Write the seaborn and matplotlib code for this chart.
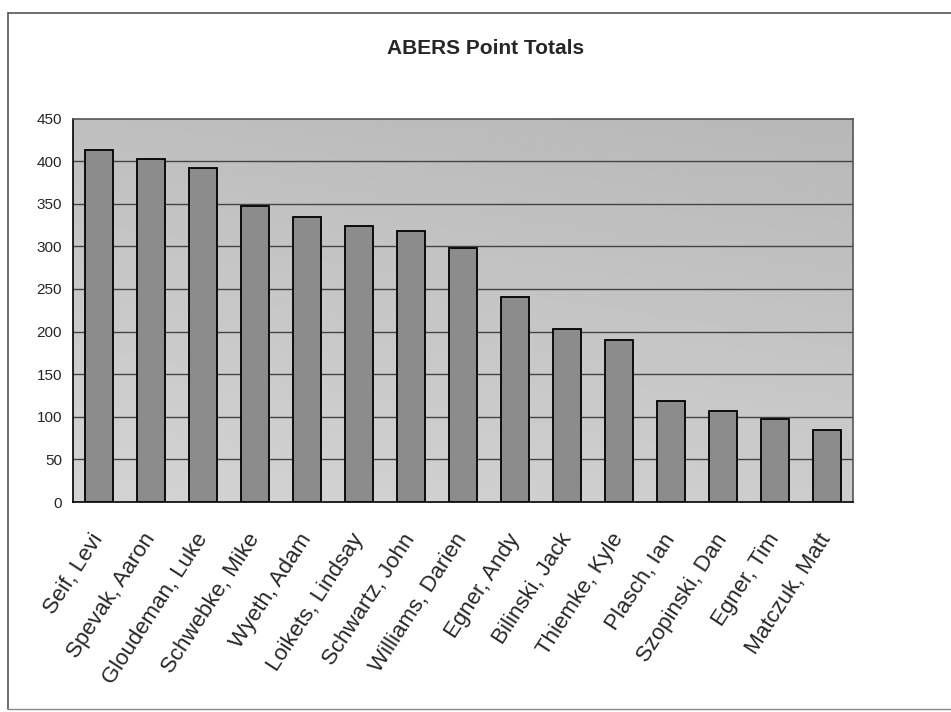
import numpy as np
import pandas as pd
import matplotlib
matplotlib.use("Agg")
import matplotlib.pyplot as plt
import seaborn as sns
from matplotlib.lines import Line2D

names = ["Seif, Levi", "Spevak, Aaron", "Gloudeman, Luke", "Schwebke, Mike",
         "Wyeth, Adam", "Loikets, Lindsay", "Schwartz, John", "Williams, Darien",
         "Egner, Andy", "Bilinski, Jack", "Thiemke, Kyle", "Plasch, Ian",
         "Szopinski, Dan", "Egner, Tim", "Matczuk, Matt"]
points = [413, 402, 392, 347, 334, 324, 318, 298, 240, 203, 190, 118, 107, 97, 84]
yticks = [0, 50, 100, 150, 200, 250, 300, 350, 400, 450]
title = "ABERS Point Totals"

df = pd.DataFrame({"name": names, "points": points})

sns.set_style("white")
plt.rcParams["font.family"] = ["Liberation Sans", "DejaVu Sans"]

fig = plt.figure(figsize=(9.51, 7.12), dpi=100)
fig.patch.set_facecolor("white")
ax = fig.add_axes([73/951, 1-502/712, (853-73)/951, (502-118.5)/712])

# gradient background (darker upper-right, lighter lower-left)
gx, gy = np.meshgrid(np.linspace(0, 1, 200), np.linspace(0, 1, 200))
t = 0.75 * gy + 0.25 * gx
grad = 0.83 - 0.11 * t
ax.imshow(grad, extent=[-0.5, len(names) - 0.5, 0, 450], origin="lower",
          aspect="auto", cmap="gray", vmin=0, vmax=1, zorder=0, interpolation="bilinear")

sns.barplot(data=df, x="name", y="points", color="#8c8c8c", saturation=1,
            edgecolor="black", linewidth=1.3, width=0.54, ax=ax, zorder=3)

ax.set_xlim(-0.5, len(names) - 0.5)
ax.set_ylim(0, 450)
ax.set_yticks(yticks)
ax.set_yticklabels([str(v) for v in yticks], fontsize=11)
for v in yticks[1:-1]:
    ax.axhline(v, color="#444444", linewidth=1.0, zorder=1)

ax.set_xlabel("")
ax.set_ylabel("")
ax.set_xticks(range(len(names)))
ax.set_xticklabels(names, rotation=57, ha="right", va="center",
                   rotation_mode="anchor", fontsize=16)
ax.tick_params(axis="x", which="major", length=0, pad=24)
ax.set_xticks(np.arange(-0.5, len(names), 1.0), minor=True)
ax.tick_params(axis="x", which="minor", length=5, width=1, color="black", direction="out")
ax.tick_params(axis="y", which="major", length=5, width=1, color="black", direction="out", pad=3)

for side in ["left", "bottom"]:
    ax.spines[side].set_color("black")
    ax.spines[side].set_linewidth(1.2)
for side in ["top", "right"]:
    ax.spines[side].set_color("#555555")
    ax.spines[side].set_linewidth(1.2)
    ax.spines[side].set_visible(True)

fig.text(486/951, 1-48/712, title, ha="center", va="center",
         fontsize=15, fontweight="bold")

# outer chart frame
fig.add_artist(Line2D([8/951, 8/951], [1-709/712, 1-13/712], transform=fig.transFigure,
                      color="#555555", linewidth=1.2))
fig.add_artist(Line2D([8/951, 1.0], [1-13/712, 1-13/712], transform=fig.transFigure,
                      color="#555555", linewidth=1.2))
fig.add_artist(Line2D([8/951, 1.0], [1-709/712, 1-709/712], transform=fig.transFigure,
                      color="#888888", linewidth=1.0))

fig.savefig("out.png", dpi=100, facecolor="white")
